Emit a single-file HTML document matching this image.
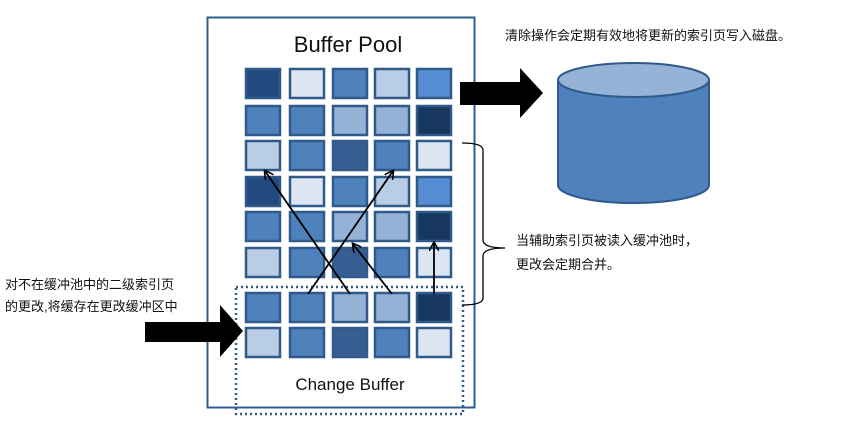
<!DOCTYPE html>
<html><head><meta charset="utf-8"><style>
html,body{margin:0;padding:0;background:#fff;}
svg{display:block}
text{font-family:"Liberation Sans","Noto Sans CJK SC",sans-serif;}
</style></head><body>
<svg width="864" height="427" viewBox="0 0 864 427" xmlns="http://www.w3.org/2000/svg">
<defs><marker id="ah" markerWidth="10" markerHeight="10" refX="8" refY="5" orient="auto" markerUnits="userSpaceOnUse"><path d="M0,0 L9,5 L0,10" fill="none" stroke="#000" stroke-width="1.6"/></marker></defs>
<rect x="207.5" y="17.5" width="267" height="390" fill="#fff" stroke="#2f5c8f" stroke-width="2"/>
<text x="348" y="52" font-size="22" text-anchor="middle" fill="#111">Buffer Pool</text>
<g stroke="#2f5a8a" stroke-width="2.5">
<!-- rows -->
<g id="cells"></g>
</g>
<g stroke="#2f5a8a" stroke-width="2.5">
<rect x="246" y="69" width="34" height="29" fill="#234a7e"/><rect x="290" y="69" width="34" height="29" fill="#dce6f2"/><rect x="333" y="69" width="34" height="29" fill="#4f81bd"/><rect x="375" y="69" width="34" height="29" fill="#b9cde5"/><rect x="417" y="69" width="34" height="29" fill="#558ed5"/>
<rect x="246" y="106" width="34" height="29" fill="#4f81bd"/><rect x="290" y="106" width="34" height="29" fill="#4f81bd"/><rect x="333" y="106" width="34" height="29" fill="#95b3d7"/><rect x="375" y="106" width="34" height="29" fill="#95b3d7"/><rect x="417" y="106" width="34" height="29" fill="#17375e"/>
<rect x="246" y="141" width="34" height="29" fill="#b9cde5"/><rect x="290" y="141" width="34" height="29" fill="#4f81bd"/><rect x="333" y="141" width="34" height="29" fill="#375e92"/><rect x="375" y="141" width="34" height="29" fill="#4f81bd"/><rect x="417" y="141" width="34" height="29" fill="#dce6f2"/>
<rect x="246" y="177" width="34" height="29" fill="#234a7e"/><rect x="290" y="177" width="34" height="29" fill="#dce6f2"/><rect x="333" y="177" width="34" height="29" fill="#4f81bd"/><rect x="375" y="177" width="34" height="29" fill="#b9cde5"/><rect x="417" y="177" width="34" height="29" fill="#558ed5"/>
<rect x="246" y="212" width="34" height="29" fill="#4f81bd"/><rect x="290" y="212" width="34" height="29" fill="#4f81bd"/><rect x="333" y="212" width="34" height="29" fill="#95b3d7"/><rect x="375" y="212" width="34" height="29" fill="#95b3d7"/><rect x="417" y="212" width="34" height="29" fill="#17375e"/>
<rect x="246" y="248" width="34" height="29" fill="#b9cde5"/><rect x="290" y="248" width="34" height="29" fill="#4f81bd"/><rect x="333" y="248" width="34" height="29" fill="#375e92"/><rect x="375" y="248" width="34" height="29" fill="#4f81bd"/><rect x="417" y="248" width="34" height="29" fill="#dce6f2"/>
<rect x="246" y="293" width="34" height="29" fill="#4f81bd"/><rect x="290" y="293" width="34" height="29" fill="#4f81bd"/><rect x="333" y="293" width="34" height="29" fill="#95b3d7"/><rect x="375" y="293" width="34" height="29" fill="#95b3d7"/><rect x="417" y="293" width="34" height="29" fill="#17375e"/>
<rect x="246" y="328" width="34" height="29" fill="#b9cde5"/><rect x="290" y="328" width="34" height="29" fill="#4f81bd"/><rect x="333" y="328" width="34" height="29" fill="#375e92"/><rect x="375" y="328" width="34" height="29" fill="#4f81bd"/><rect x="417" y="328" width="34" height="29" fill="#dce6f2"/>
</g>
<rect x="236" y="287" width="227" height="127" fill="none" stroke="#2f5a8a" stroke-width="2.5" stroke-dasharray="2,3"/>
<text x="350" y="390" font-size="17" text-anchor="middle" fill="#111">Change Buffer</text>
<g stroke="#000" stroke-width="1.8" marker-end="url(#ah)">
<line x1="350" y1="294" x2="265" y2="171"/>
<line x1="308" y1="294" x2="393" y2="171"/>
<line x1="392" y1="294" x2="353" y2="244"/>
<line x1="434" y1="294" x2="434" y2="243"/>
</g>
<polygon points="460,82 520,82 520,68 543,93 520,118 520,105 460,105" fill="#000"/>
<polygon points="145,322 220,322 220,305 243,331 220,357 220,342 145,342" fill="#000"/>
<path d="M558,80 L558,185 A75.5,18 0 0 0 709,185 L709,80" fill="#4f81bd" stroke="#2f5a8a" stroke-width="2"/>
<ellipse cx="633.5" cy="80" rx="75.5" ry="17" fill="#95b3d7" stroke="#2f5a8a" stroke-width="2"/>
<path d="M462,143 Q483,143 483,150 L483,240 Q483,248 505,248 Q483,248 483,256 L483,298 Q483,305 462,305" fill="none" stroke="#000" stroke-width="1.3"/>
<text x="505" y="40" font-size="13" fill="#111">清除操作会定期有效地将更新的索引页写入磁盘。</text>
<text x="516" y="245" font-size="13" fill="#111">当辅助索引页被读入缓冲池时，</text>
<text x="516" y="269" font-size="13" fill="#111">更改会定期合并。</text>
<text x="5" y="289" font-size="13" fill="#111">对不在缓冲池中的二级索引页</text>
<text x="5" y="311" font-size="13" fill="#111">的更改,将缓存在更改缓冲区中</text>
</svg>
</body></html>
